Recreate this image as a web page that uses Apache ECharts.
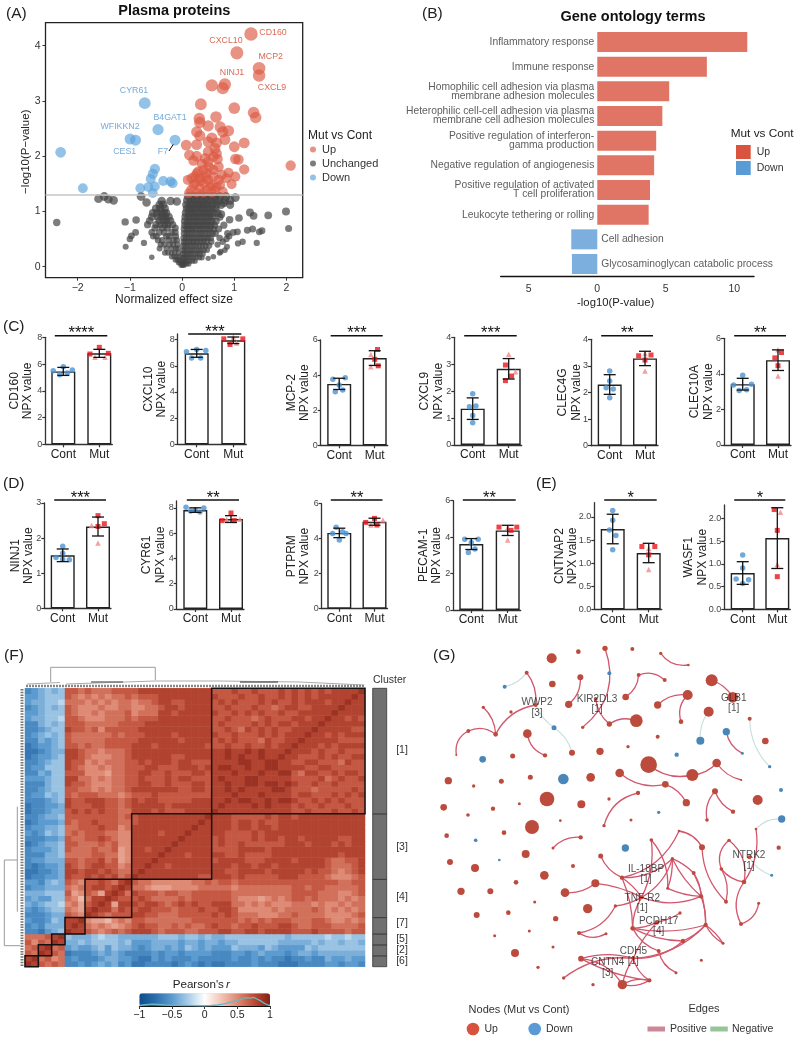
<!DOCTYPE html>
<html><head><meta charset="utf-8">
<style>html,body{margin:0;padding:0;background:#fff}#c{width:800px;height:1040px}</style>
<script src="https://cdn.jsdelivr.net/npm/echarts@6/dist/echarts.min.js"></script>
</head><body><div id="c"></div>
<script>
const FONT='"Liberation Sans",Arial,sans-serif';
/* ---------- (A) volcano ---------- */
const volcanoUp=[[1.32,4.21],[1.05,3.87],[1.475,3.59],[1.475,3.46],[.57,3.28],[.82,3.30],[.78,3.23],[.36,2.94],[1.0,2.87],[1.37,2.79],[1.41,2.70],[.33,2.68],[.65,2.71],[.34,2.61],[.5,2.55],[.73,2.53],[.89,2.46],[.28,2.44],[.34,2.37],[.78,2.44],[.57,2.33],[.82,2.30],[.5,2.26],[.66,2.24],[1.19,2.24],[1.0,2.17],[.08,2.2],[.28,2.21],[.63,2.14],[.5,2.08],[.66,2.05],[.6,1.99],[.14,2.02],[.28,2.0],[1.02,1.95],[1.08,1.94],[.22,1.92],[.5,1.9],[.7,1.81],[2.08,1.83],[1.19,1.76],[.38,1.86],[.41,1.75],[.6,1.75],[.28,1.69],[.47,1.69],[.89,1.7],[1.02,1.63],[.76,1.66],[.24,1.63],[.6,1.63],[.34,1.6],[.11,1.57],[.5,1.57],[.7,1.57],[.95,1.49],[.25,1.51],[.41,1.51],[.57,1.48],[.73,1.48],[.17,1.39],[.34,1.42],[.47,1.39],[.63,1.39],[.78,1.36],[.28,1.34],[.41,1.34],[.57,1.34],[.22,1.48],[.18,1.6],[.31,1.72],[.45,1.62],[.54,1.45],[.66,1.44],[.13,1.33],[.36,1.55],[.85,1.6],[.52,1.8],[.44,1.96],[.68,1.95]];
const volcanoDown=[[-.715,2.96],[-.46,2.48],[-.995,2.31],[-.89,2.29],[-.135,2.29],[-2.325,2.07],[-.52,1.77],[-.56,1.68],[-.6,1.59],[-.36,1.55],[-.22,1.54],[-.18,1.51],[-1.9,1.42],[-.8,1.42],[-.645,1.44],[-.52,1.45],[-.56,1.33]];
const volcanoGraySparse=[[-1.6,1.23],[-1.49,1.27],[-1.41,1.22],[-1.31,1.2],[-.785,1.27],[-.68,1.16],[-.39,1.19],[-.22,1.19],[-.1,1.18],[-2.4,.8],[-1.09,.81],[-.88,.845],[-.89,.62],[-1,.5],[-.97,.56],[-1.08,.36],[-.73,.43],[-.58,.17],[1.3,.98],[1.37,.92],[1.65,.93],[1.99,1.0],[2.04,.69],[1.09,.88],[.91,.85],[1.53,.65],[1.48,.63],[1.25,.66],[1.35,.68],[1.06,.63],[.98,.62],[.87,.6],[1.16,.45],[1.07,.42],[1.43,.43],[.86,.36],[.74,.27],[1.02,1.25],[.92,1.2],[.8,1.15],[.92,1.12],[.84,1.27],[.75,.95],[.8,.75],[.85,.5],[.9,.55],[.78,.45],[.68,.4],[.72,.25],[.6,.18],[.5,.15],[.82,.3]];
const volcanoGrayLevels=[1.27,1.2,1.12,1.05,.97,.9,.82,.75,.68,.6,.52,.45,.38,.3,.23,.16,.1,.05,.02];
const volcanoGrayRight=[[.12,.2,.28,.37,.45,.55,.62,.72],[.1,.17,.24,.31,.39,.47,.54,.63,.7,.82],[.08,.15,.22,.3,.36,.43,.5,.58,.66,.75],[.09,.14,.21,.27,.35,.41,.49,.56,.64],[.07,.13,.19,.26,.33,.4,.46,.53,.6,.68],[.06,.12,.18,.25,.31,.38,.45,.52,.58,.72],[.05,.11,.17,.24,.3,.37,.43,.5,.57,.65],[.05,.1,.16,.22,.29,.35,.42,.48,.55,.62],[.04,.1,.15,.21,.27,.34,.4,.47,.53,.6,.7],[.04,.09,.14,.2,.26,.33,.38,.45,.51,.58,.64],[.03,.08,.13,.19,.25,.31,.37,.43,.49,.55,.72],[.03,.07,.13,.18,.23,.29,.35,.41,.47,.56],[.02,.06,.11,.16,.22,.27,.33,.39,.45,.52],[.02,.05,.1,.15,.2,.25,.31,.36,.42,.48],[.01,.05,.09,.14,.18,.24,.29,.34,.4],[.01,.04,.08,.12,.17,.22,.27,.33,.38],[0,.03,.06,.1,.15,.2,.25],[0,.02,.05,.09,.13],[-.02,.01,.04]];
const volcanoGrayLeftLevels=[1.12,1.05,.97,.9,.83,.76,.7,.62,.55,.48,.4,.33,.25,.18,.12,.07];
const volcanoGrayLeft=[[-.43,-.36],[-.5,-.42,-.33],[-.56,-.48,-.4,-.34,-.3],[-.58,-.46,-.38,-.32,-.25],[-.62,-.44,-.36,-.3,-.22],[-.66,-.5,-.42,-.33,-.27,-.18],[-.52,-.38,-.28,-.13],[-.58,-.44,-.34,-.2,-.13],[-.55,-.49,-.3,-.24,-.12],[-.46,-.38,-.26,-.16,-.1],[-.41,-.34,-.24,-.17,-.09],[-.43,-.3,-.2,-.12,-.08],[-.33,-.27,-.2,-.14,-.07],[-.2,-.15,-.1,-.05],[-.13,-.09,-.05],[-.07,-.04]];
const volcanoThreshold=1.3;
const volcanoTextUp=[['CD160',273,32.7],['CXCL10',226,40.7],['MCP2',270.7,56.7],['NINJ1',232,72.7],['CXCL9',272,88]];
const volcanoTextDown=[['CYR61',134,90.7],['B4GAT1',170,117.7],['WFIKKN2',120,126.7],['CES1',124.7,151.7],['F7',163,151.7]];
/* ---------- (B) GO ---------- */
const goTerms=['Inflammatory response','Immune response','Homophilic cell adhesion via plasma\nmembrane adhesion molecules','Heterophilic cell-cell adhesion via plasma\nmembrane cell adhesion molecules','Positive regulation of interferon-\ngamma production','Negative regulation of angiogenesis','Positive regulation of activated\nT cell proliferation','Leukocyte tethering or rolling','Cell adhesion','Glycosaminoglycan catabolic process'];
const goUp=[10.95,8.0,5.25,4.75,4.3,4.15,3.85,3.75,null,null];
const goDown=[null,null,null,null,null,null,null,null,-1.9,-1.85];
/* ---------- (C,D,E) NPX bars ---------- */
const npxGenes=['CD160','CXCL10','MCP-2','CXCL9','CLEC4G','CLEC10A','NINJ1','CYR61','PTPRM','PECAM-1','CNTNAP2','WASF1'];
const npxStars=['****','***','***','***','**','**','***','**','**','**','*','*'];
const npxContMean=[5.45,6.95,3.5,1.35,2.3,3.42,1.51,7.83,4.33,3.62,1.74,.8];
const npxContErr=[.3,.3,.32,.4,.37,.33,.18,.18,.27,.3,.32,.25];
const npxMutMean=[6.8,7.95,4.97,2.83,3.28,4.77,2.33,7.12,4.97,4.37,1.22,1.57];
const npxMutErr=[.3,.25,.42,.38,.27,.58,.27,.27,.2,.28,.21,.67];
const npxContDots=[[[-.28,5.5],[0,5.8],[.25,5.56],[-.1,5.2],[.11,5.33]],[[-.28,7.07],[0,7.24],[.25,7.17],[-.14,6.6],[.11,6.6]],[[-.18,3.76],[.17,3.85],[0,3.43],[-.11,3.05],[.1,3.15]],[[0,1.9],[-.09,1.42],[.09,1.45],[0,1.1],[0,.83]],[[0,2.81],[0,2.43],[-.1,2.18],[.1,2.13],[0,1.8]],[[0,3.92],[-.26,3.38],[.25,3.41],[-.1,3.06],[.11,3.1]],[[0,1.77],[0,1.57],[-.19,1.45],[.19,1.38],[0,1.4]],[[-.26,8.05],[.24,8],[-.13,7.76],[.13,7.68],[0,7.84]],[[-.09,4.65],[-.19,4.3],[.19,4.3],[.09,4.4],[0,3.92]],[[-.18,3.88],[.19,3.88],[0,3.7],[.1,3.35],[-.08,3.16]],[[0,2.14],[0,1.93],[-.09,1.72],[.09,1.6],[0,1.29]],[[0,1.2],[0,.91],[-.19,.67],[.17,.65],[0,.57]]];
const npxMutSquares=[[[0,7.25],[-.26,6.75],[.25,6.8]],[[-.26,8.06],[.26,8.06],[-.09,7.63]],[[.08,5.46],[0,4.9],[.1,4.53]],[[-.09,2.97],[.08,2.56],[-.09,2.39]],[[-.18,3.38],[.17,3.41],[0,3.22]],[[.1,5.2],[-.09,4.9],[0,4.46]],[[0,2.64],[.18,2.41],[0,2.33]],[[0,7.6],[-.25,7],[.09,7]],[[0,5.16],[-.25,4.93],[.07,4.78]],[[-.24,4.55],[.25,4.55],[.09,4.37]],[[-.19,1.36],[.17,1.36],[0,1.18]],[[-.09,2.2],[0,1.74],[0,.72]]];
const npxMutTriangles=[[[-.12,6.5],[.16,6.5]],[[.09,7.75],[0,8.2]],[[-.11,5.18],[-.11,4.48]],[[0,3.37],[.19,2.72]],[[0,3.47],[0,2.81]],[[0,5.35],[0,3.88]],[[-.18,2.36],[0,1.86]],[[-.12,7.1],[.25,7.1]],[[.24,5.07],[-.1,4.78]],[[0,4.53],[0,3.84]],[[0,1.32],[0,.86]],[[.09,2.14],[0,.99]]];
const npxTicks=[[0,2,4,6,8],[0,2,4,6,8],[0,2,4,6],[0,1,2,3,4],[0,1,2,3,4],[0,2,4,6],[0,1,2,3],[0,2,4,6,8],[0,2,4,6],[0,2,4,6],[0,.5,1,1.5,2],[0,.5,1,1.5,2]];
const npxAxisTop=[8,8.43,6,4,4,6,3,8.55,6,6,2.31,2.3];
/* layout: axis x, centre 1, centre 2, zero y, top y, significance y, name offset */
const npxLayout=[[45.3,63.3,99.3,444.3,337.3,335.7,23.8],[177.7,196.7,233.3,444.3,334,334,22.8],[320.7,339.2,374.7,445.3,340,335.7,22.4],[454.3,472.7,508.7,445,337.3,335.7,22.7],[591,609.7,645,445.7,339.3,335.7,21.3],[724,742.7,778,445,338.3,335.7,22.3],[44.3,62.7,98,608.3,503,500,22],[176.7,195.3,231,609,501,500,23],[321.7,339.3,374.5,608.7,503.7,500,23.4],[453.3,471.3,507.7,610,500.7,500,23.3],[594.3,612.7,648.7,609.3,502.7,500,27.8],[724.3,742.7,777.3,609.3,505,500,28.6]];
/* ---------- (F) correlation heat map: lower triangle, rows from bottom, digit=r*10, letter a..h = -0.1..-0.8 ---------- */
const heatClusterEdges=[0,2,4,6,9,16,28,51];
const heatClusterNames=[['[6]',960.7],['[2]',950],['[5]',939],['[7]',923],['[4]',896.7],['[3]',847.3],['[1]',750]];
const heatRows=[
"9","89",
"76 9","67 89",
"75 76 9","66 67 89",
"ff ge dc 9","fe fd dd 89","ef fe cd 889",
"ff fe dd 765 9","ef ed cc 654 89","de dc cb 564 789","ed ee cc 653 6889","dd dc cc 745 76489","fe ed dd 656 788789","ee fd cd 765 7787689",
"gf fe ed 877 8787867 9","gg ff ed 887 8878766 89","fg fe ed 876 7887756 889","fe ed dd 776 7786745 8889","ff fd dc 666 6776645 88889","fe ee dc 766 6766745 887889","gf ed dc 776 6676755 8888889","ff fe ed 766 7787655 88888889","ef ec dc 676 7776655 888878889","fe ed dc 667 7787756 8888888889","gf ee ed 767 7877766 78888888889","ff ed dc 777 7777767 788888888889",
"gf fe dd 787 8787766 888787778888 9",
"gf fe ed 877 7887767 888887888888 89",
"ff fe dc 877 8887767 878877777888 889",
"fe ec dc 767 7766656 777877777777 8889",
"ff ed cc 776 6565667 888888877887 88989",
"ff fd cc 877 6555667 788778777887 889889",
"ee ed cc 886 6565667 787778788777 8988899",
"ff de cc 777 5554667 788778777887 88898889",
"fe ec cc 876 5565667 778877788878 899889889",
"ff ed cc 877 5656667 787888788777 8888998899",
"gf ee dc 887 6555667 888888778888 88989889889",
"gg fe dd 887 6656667 888888888888 889889898889",
"gf ee dc 776 7667777 888788888887 7787787787889",
"ff de dc 766 6667777 788888878888 78787776877889",
"fe dc dc 766 6666767 778888788888 877877787878889",
"ff ed cc 877 6757777 788888888888 7787687878778889",
"ff dc dc 777 6666677 778888888888 78777787878878889",
"ed dc cb 776 5556667 677788888888 778777678777887889",
"ee dc cc 765 5656667 566688788888 8778787877877888889",
"fe dc dc 765 5565566 556678878888 77877787767887788889",
"ed dc cb 666 5656566 566788778888 787877787877878887889",
"ee dc cc 765 6565667 677788888888 8777877877878787888889",
"fe dc dc 776 7666777 788888888888 77787787778787878788889"];
const heatRange=[-1,1];
const densityX=[-1,-.9,-.8,-.7,-.6,-.5,-.4,-.3,-.2,-.1,0,.1,.2,.3,.4,.5,.55,.6,.65,.7,.75,.8,.85,.9,.95,1];
const densityY=[.04,.1,.14,.12,.09,.07,.05,.04,.03,.02,.02,.04,.08,.16,.3,.45,.52,.6,.66,.62,.68,.55,.42,.25,.12,.02];
/* ---------- (G) network: coordinates (x, y, diameter) ---------- */
const netUp=[[395,115,30],[475,95,14],[555,85,16],[637,87,12],[722,100,10],[805,135,8],[320,158,12],[397,192,20],[481,172,18],[656,165,12],[734,180,12],[875,181,36],[617,231,20],[803,225,30],[713,255,22],[938,232,32],[446,253,22],[347,255,12],[527,237,12],[190,262,10],[273,276,10],[866,275,30],[649,302,38],[568,312,16],[783,305,14],[488,322,10],[989,296,12],[145,333,12],[227,343,14],[322,341,26],[713,350,12],[1036,363,20],[109,405,6],[278,408,15],[375,406,13],[456,398,18],[540,394,22],[624,380,10],[890,429,26],[686,434,50],[817,465,36],[599,459,26],[512,472,26],[331,472,15],[85,482,22],[161,498,10],[244,484,15],[736,493,20],[964,480,6],[381,537,44],[567,537,10],[298,551,9],[484,553,24],[71,562,20],[219,566,13],[144,585,11],[799,548,22],[654,519,13],[885,514,18],[1013,540,30],[939,575,13],[336,621,42],[421,602,8],[552,617,10],[633,600,9],[861,600,11],[80,647,14],[252,638,14],[482,652,13],[399,684,9],[694,660,11],[777,633,8],[1008,627,8],[927,661,10],[846,682,18],[1076,683,13],[988,712,12],[542,708,15],[317,702,24],[90,726,18],[165,744,24],[459,738,12],[373,766,26],[757,716,10],[904,747,11],[821,759,12],[606,773,13],[288,787,14],[972,786,14],[526,790,24],[123,814,22],[211,814,18],[435,818,26],[743,805,9],[843,829,13],[665,832,12],[918,845,12],[344,846,9],[586,858,10],[503,866,28],[1016,850,9],[170,885,18],[265,878,14],[780,879,10],[407,896,16],[711,907,14],[638,925,14],[857,915,13],[963,912,12],[224,947,9],[328,933,9],[477,939,12],[558,941,9],[789,963,13],[909,970,9],[399,981,9],[285,999,24],[716,993,12],[640,1015,12],[844,1021,9],[483,1016,17],[354,1042,10],[768,1058,9],[431,1074,10],[688,1081,13],[607,1094,28],[519,1094,10]];
const netDown=[[568,160,12],[254,200,12],[402,323,15],[841,362,24],[919,335,22],[967,400,9],[1049,440,10],[188,418,20],[770,404,13],[430,477,32],[1083,510,12],[716,577,10],[1085,597,22],[167,661,11],[238,720,8],[616,684,22],[1055,766,9]];
const netPositive=[[555,85,488,322,.35],[481,172,446,253,.25],[656,165,617,231,.25],[656,165,734,180,.3],[722,100,805,135,-.3],[803,225,713,255,-.25],[803,225,783,305,-.3],[875,181,938,232,.2],[527,237,568,312,-.2],[568,312,649,302,.25],[320,158,347,255,.2],[347,255,227,343,-.25],[190,262,227,343,.2],[145,333,227,343,.3],[145,333,109,405,-.35],[322,341,375,406,-.3],[686,434,817,465,-.25],[817,465,890,429,-.2],[890,429,964,480,-.2],[599,459,736,493,-.25],[736,493,799,548,.2],[654,519,552,617,-.3],[885,514,861,600,-.25],[885,514,939,575,-.2],[919,335,967,400,-.25],[482,652,399,684,-.25],
[694,660,665,832,.15],[694,660,743,805,.2],[777,633,606,773,.25],[777,633,846,682,.25],[846,682,918,845,-.2],[757,716,606,773,.2],[757,716,743,805,.1],[757,716,665,832,.2],[757,716,843,829,-.1],[757,716,821,759,.1],[821,759,843,829,.15],[821,759,857,915,.12],[843,829,665,832,.2],[743,805,843,829,-.1],[606,773,665,832,.1],[606,773,638,925,.1],[542,708,606,773,-.2],[435,818,526,790,-.2],[526,790,665,832,.1],[665,832,586,858,.1],[586,858,477,939,.25],[477,939,558,941,-.3],[665,832,638,925,-.15],[780,879,711,907,.1],[711,907,638,925,.1],[638,925,857,915,-.12],[638,925,789,963,-.12],[638,925,716,993,-.2],[857,915,789,963,.1],[857,915,909,970,-.15],[857,915,909,970,.1],[843,829,857,915,.1],[857,915,640,1015,.2],[789,963,640,1015,.2],[716,993,768,1058,-.25],[711,907,640,1015,-.1],[640,1015,607,1094,-.1],[640,1015,688,1081,-.2],[431,1074,640,1015,.2],[483,1016,607,1094,.25],[483,1016,640,1015,.15],[483,1016,688,1081,-.1],[607,1094,688,1081,.2],[607,1094,688,1081,-.2],
[1008,627,972,786,.2],[927,661,904,747,-.35],[927,661,972,786,.3],[904,747,918,845,.2],[904,747,972,786,-.2],[972,786,963,912,-.3],[963,912,1016,850,-.3]];
const netNegative=[[320,158,254,200,.2],[347,255,402,323,-.15],[402,323,456,398,.2],[866,275,841,362,-.2],[989,296,1049,440,-.2],[1085,597,1008,627,-.25],[988,712,1055,766,-.2]];
const netLabels=[['WWP2\n[3]',351,263],['KIR2DL3\n[1]',531,253],['GLB1\n[1]',941,250],['IL-18BP\n[1]',678,762],['TNF-R2\n[1]',667,849],['PCDH17\n[4]',716,918],['CDH5\n[1]',640,1008],['CNTN4\n[3]',563,1043],['NTRK2\n[1]',987,722]];

/* ---------- build ---------- */
const grid=[],xAxis=[],yAxis=[],series=[],graphic=[];
const T=(x,y,text,o={})=>graphic.push({type:'text',x,y,rotation:o.rot||0,silent:true,z:50,style:{text,font:`${o.style||'normal'} ${o.weight||'normal'} ${o.size||10.5}px ${FONT}`,fill:o.color||'#222',align:o.align||'left',verticalAlign:'middle'}});
const L=(x1,y1,x2,y2,color='#111',w=1.4)=>graphic.push({type:'line',silent:true,z:50,shape:{x1,y1,x2,y2},style:{stroke:color,lineWidth:w}});
const P=(points,color='#9a9a9a',w=1)=>graphic.push({type:'polyline',silent:true,z:50,shape:{points},style:{stroke:color,lineWidth:w,fill:'none'}});
const R=(x,y,width,height,fill)=>graphic.push({type:'rect',silent:true,z:50,shape:{x,y,width,height},style:{fill}});
const C=(cx,cy,r,fill)=>graphic.push({type:'circle',silent:true,z:50,shape:{cx,cy,r},style:{fill}});
function addGrid(g,x,y){grid.push(Object.assign({containLabel:false},g));const i=grid.length-1;xAxis.push(Object.assign({gridIndex:i},x));yAxis.push(Object.assign({gridIndex:i},y));return i;}
const hidden={show:false};

T(6,14,'(A)',{size:15.5});T(422,14,'(B)',{size:15.5});T(3,327,'(C)',{size:15.5});T(3,484,'(D)',{size:15.5});T(536,484,'(E)',{size:15.5});T(4,656,'(F)',{size:15.5});T(433,656,'(G)',{size:15.5});

/* A */
const volcanoGray=[...volcanoGraySparse];
volcanoGrayLevels.forEach((y,i)=>volcanoGrayRight[i].forEach(x=>volcanoGray.push([x,y])));
volcanoGrayLeftLevels.forEach((y,i)=>volcanoGrayLeft[i].forEach(x=>volcanoGray.push([x,y])));
const gA=addGrid({left:45.5,top:22.7,width:257.2,height:255,show:true,borderColor:'#222',borderWidth:1.3,backgroundColor:'transparent'},
 {type:'value',min:-2.615,max:2.31,splitLine:hidden,axisLine:{show:false,onZero:false},axisTick:{show:true,length:3,customValues:[-2,-1,0,1,2],lineStyle:{color:'#333'}},axisLabel:{customValues:[-2,-1,0,1,2],fontSize:10.5,color:'#333',margin:5,formatter:v=>String(v).replace('-','−')}},
 {type:'value',min:-.2,max:4.416,splitLine:hidden,axisLine:{show:false,onZero:false},axisTick:{show:true,length:3,customValues:[0,1,2,3,4],lineStyle:{color:'#333'}},axisLabel:{customValues:[0,1,2,3,4],fontSize:10.5,color:'#333',margin:5}});
const vs=d=>d[1]<1.3?5+3*d[1]:8+1.3*d[1];
series.push({type:'scatter',name:'Unchanged',xAxisIndex:gA,yAxisIndex:gA,data:volcanoGray,symbolSize:vs,itemStyle:{color:'#444',opacity:.7},z:2,silent:true});
series.push({type:'scatter',name:'Up',xAxisIndex:gA,yAxisIndex:gA,data:volcanoUp,symbolSize:vs,itemStyle:{color:'#DC5A43',opacity:.66},z:3,silent:true,
 markLine:{silent:true,symbol:'none',label:hidden,animation:false,lineStyle:{color:'#C4C4C4',width:1.5,type:'solid'},data:[{yAxis:volcanoThreshold}]}});
series.push({type:'scatter',name:'Down',xAxisIndex:gA,yAxisIndex:gA,data:volcanoDown,symbolSize:vs,itemStyle:{color:'#5BA3DC',opacity:.66},z:3,silent:true});
T(174.3,11,'Plasma proteins',{size:14.5,weight:'bold',align:'center',color:'#111'});
T(174,300,'Normalized effect size',{size:12,align:'center'});
T(26,151.7,'−log10(P−value)',{size:11.5,align:'center',rot:Math.PI/2});
volcanoTextUp.forEach(t=>T(t[1],t[2],t[0],{size:8.8,align:'center',color:'#DC6A55'}));
volcanoTextDown.forEach(t=>T(t[1],t[2],t[0],{size:8.8,align:'center',color:'#72ABDB'}));
L(169,151,173.3,144.3,'#111',1);
T(308,136,'Mut vs Cont',{size:12});

/* B */
const gB=addGrid({left:500.7,top:29.67,width:253.3,height:246.67},
 {type:'value',min:-7.05,max:11.44,splitLine:hidden,axisLine:{show:true,onZero:false,lineStyle:{color:'#111',width:1.4}},axisTick:hidden,axisLabel:{customValues:[-5,0,5,10],fontSize:10.5,color:'#333',margin:7,formatter:v=>String(Math.abs(v))}},
 {type:'category',inverse:true,data:goTerms,show:false});
const goLab={show:true,fontSize:10.3,lineHeight:9,color:'#333',formatter:p=>p.name};
series.push({type:'bar',name:'GO Up',xAxisIndex:gB,yAxisIndex:gB,data:goUp,barWidth:20,barGap:'-100%',itemStyle:{color:'#D9533F',opacity:.8},label:Object.assign({position:'left',distance:3},goLab),silent:true});
series.push({type:'bar',name:'GO Down',xAxisIndex:gB,yAxisIndex:gB,data:goDown,barWidth:20,barGap:'-100%',itemStyle:{color:'#5B9BD5',opacity:.8},label:Object.assign({position:'right',distance:4},goLab),silent:true});
T(633,17,'Gene ontology terms',{size:14.5,weight:'bold',align:'center',color:'#111'});
T(615.7,303,'-log10(P-value)',{size:11.3,align:'center'});
T(730.7,134,'Mut vs Cont',{size:11.8});

/* C D E */
npxGenes.forEach((gene,k)=>{
 const [ax,c1,c2,y0,yT,sigY,nameOff]=npxLayout[k],band=c2-c1,right=c2+13,vmax=npxAxisTop[k],ticks=npxTicks[k];
 const i=addGrid({left:ax,top:yT,width:right-ax,height:y0-yT},
  {type:'value',min:-(c1-ax)/band,max:1+13/band,splitLine:hidden,axisLine:{show:true,onZero:false,lineStyle:{color:'#333',width:1.3}},
   axisTick:{show:true,length:3,customValues:[0,1],lineStyle:{color:'#333',width:1.2}},axisLabel:{customValues:[0,1],fontSize:12,color:'#222',margin:4,formatter:v=>v<.5?'Cont':'Mut'}},
  {type:'value',min:0,max:vmax,splitLine:hidden,name:gene+'\nNPX value',nameLocation:'middle',nameMoveOverlap:false,nameGap:nameOff-13.3,nameTextStyle:{fontSize:12,lineHeight:13.3,color:'#222'},
   axisLine:{show:true,onZero:false,lineStyle:{color:'#333',width:1.3}},axisTick:{show:true,length:3,customValues:ticks,lineStyle:{color:'#333',width:1.2}},
   axisLabel:{customValues:ticks,fontSize:9,color:'#444',margin:3,formatter:v=>k>=10?v.toFixed(1):String(v)}});
 series.push({type:'bar',xAxisIndex:i,yAxisIndex:i,barWidth:24,data:[[0,npxContMean[k]],[1,npxMutMean[k]]],itemStyle:{color:'#fff',borderColor:'#222',borderWidth:1.4},silent:true,z:2});
 const dots=[];
 npxContDots[k].forEach(d=>dots.push({value:[d[0],d[1]],symbol:'circle',symbolSize:5.5,itemStyle:{color:'#4F93D2'}}));
 npxMutTriangles[k].forEach(d=>dots.push({value:[1+d[0],d[1]],symbol:'triangle',symbolSize:5.5,itemStyle:{color:'#F08A8A'}}));
 npxMutSquares[k].forEach(d=>dots.push({value:[1+d[0],d[1]],symbol:'rect',symbolSize:5,itemStyle:{color:'#E8141C'}}));
 series.push({type:'scatter',xAxisIndex:i,yAxisIndex:i,data:dots,clip:false,silent:true,z:3});
 series.push({type:'custom',xAxisIndex:i,yAxisIndex:i,silent:true,z:4,clip:false,encode:{x:0,y:[1,2]},
  data:[[0,npxContMean[k]-npxContErr[k],npxContMean[k]+npxContErr[k]],[1,npxMutMean[k]-npxMutErr[k],npxMutMean[k]+npxMutErr[k]]],
  renderItem:(p,api)=>{const a=api.coord([api.value(0),api.value(1)]),b=api.coord([api.value(0),api.value(2)]);const st={stroke:'#111',lineWidth:1.3};
   return {type:'group',children:[{type:'line',shape:{x1:a[0],y1:a[1],x2:b[0],y2:b[1]},style:st},{type:'line',shape:{x1:a[0]-6,y1:a[1],x2:a[0]+6,y2:a[1]},style:st},{type:'line',shape:{x1:b[0]-6,y1:b[1],x2:b[0]+6,y2:b[1]},style:st}]};}});
 L(c1-8.5,sigY,c2+8,sigY,'#111',1.4);
 T((c1+c2)/2,sigY-2,npxStars[k],{size:16.5,align:'center',color:'#111'});
});

/* F */
const heatData=[];const decode=ch=>{if(ch===undefined)return .8;const n=ch.charCodeAt(0);return n<58?(n-48)/10:-(n-96)/10;};
const heatClean=heatRows.map(r=>r.replace(/ /g,''));
const heatN=heatClean.length,heatCats=heatClean.map((_,i)=>String(i));
for(let i=0;i<heatN;i++)for(let j=0;j<=i;j++){const v=decode(heatClean[i][j]);heatData.push([j,i,v]);if(j!==i)heatData.push([i,j,v]);}
const gF=addGrid({left:25,top:688.3,width:340,height:278.4},{type:'category',data:heatCats,show:false},{type:'category',data:heatCats,show:false});
const heatIdx=series.length;
series.push({type:'heatmap',xAxisIndex:gF,yAxisIndex:gF,data:heatData,progressive:0,silent:true,z:2});
heatClusterNames.forEach(c=>T(402,c[1],c[0],{size:10.5,align:'center',color:'#333'}));
T(373,679.7,'Cluster',{size:10.5,color:'#333'});
/* dendrograms */
P([[50.7,682],[50.7,667.3],[155.3,667.3],[155.3,680]]);
P([[27,684],[60,682.5]],'#aaa',1);P([[66,684],[155,681],[220,681],[300,682],[364,685]],'#aaa',1);
P([[91,682],[123,682]],'#777',1.5);P([[240,682],[278,682]],'#666',1.5);
graphic.push({type:'line',silent:true,z:50,shape:{x1:26,y1:686,x2:364,y2:686},style:{stroke:'#888',lineWidth:2.6,lineDash:[2,1]}});
graphic.push({type:'line',silent:true,z:50,shape:{x1:22,y1:689,x2:22,y2:966},style:{stroke:'#777',lineWidth:3,lineDash:[1.5,1.2]}});
P([[17,860],[4.3,860],[4.3,945.7],[17,945.7]]);
P([[17.3,806.7],[17.3,911.7]]);P([[17,945.7],[20,945.7]]);
T(172.7,985,"Pearson's",{size:11.6});T(226,985,'r',{size:11.6,style:'italic'});
const gCB=addGrid({left:139.3,top:993.3,width:130.7,height:12.7},
 {type:'value',min:-1,max:1,splitLine:hidden,axisLine:{show:true,onZero:false,lineStyle:{color:'#111',width:1}},axisTick:{show:true,length:3,customValues:[-1,-.5,0,.5,1],lineStyle:{color:'#333'}},axisLabel:{customValues:[-1,-.5,0,.5,1],fontSize:10.5,color:'#222',margin:4,formatter:v=>String(v).replace('-','−')}},
 {type:'value',min:0,max:1,show:false});
series.push({type:'line',xAxisIndex:gCB,yAxisIndex:gCB,data:densityX.map((x,i)=>[x,densityY[i]]),symbol:'none',lineStyle:{color:'#63BAC6',width:1.3},z:10,silent:true});

/* G */
const gG=addGrid({left:420,top:620,width:380,height:420},{type:'value',min:0,max:1140,show:false},{type:'value',min:0,max:1260,inverse:true,show:false});
const nodes=[];
netUp.forEach(n=>nodes.push({name:n[0]+','+n[1],value:[n[0],n[1]],symbolSize:n[2]/3,itemStyle:{color:'#BC4B3D'}}));
netDown.forEach(n=>nodes.push({name:n[0]+','+n[1],value:[n[0],n[1]],symbolSize:n[2]/3,itemStyle:{color:'#4A87B8'}}));
const edge=(e,color,width)=>({source:e[0]+','+e[1],target:e[2]+','+e[3],lineStyle:{color,width,opacity:1,curveness:e[4]}});
const links=[...netNegative.map(e=>edge(e,'#C6E0DC',1.1)),...netPositive.map(e=>edge(e,'#D2566C',1.3))];
series.push({type:'graph',layout:'none',coordinateSystem:'cartesian2d',xAxisIndex:gG,yAxisIndex:gG,data:nodes,links,silent:true,z:3,nodeScaleRatio:0,label:hidden,edgeSymbol:['none','none'],emphasis:{disabled:true}});
series.push({type:'scatter',xAxisIndex:gG,yAxisIndex:gG,symbolSize:1,itemStyle:{color:'transparent'},silent:true,z:6,data:netLabels.map(l=>({value:[l[1],l[2]],name:l[0]})),
 label:{show:true,position:'inside',formatter:p=>p.name,fontSize:10,lineHeight:10.5,color:'#222'}});
T(519,1010,'Nodes (Mut vs Cont)',{size:11,align:'center',color:'#333'});
C(473,1029,6.3,'#D8533D');T(484.5,1029,'Up',{size:10.5,color:'#333'});
C(534.7,1029,6.3,'#5B9BD5');T(546,1029,'Down',{size:10.5,color:'#333'});
T(704,1009,'Edges',{size:11,align:'center',color:'#333'});
R(647.5,1026.5,17.5,5,'#CE8798');T(670,1029,'Positive',{size:10.5,color:'#333'});
R(710.3,1026.5,17.5,5,'#98C49A');T(732,1029,'Negative',{size:10.5,color:'#333'});

/* heat map overlay axes go last so grid and axis indices stay aligned above */
xAxis.push({gridIndex:gF,type:'value',min:0,max:51,show:false});yAxis.push({gridIndex:gF,type:'value',min:0,max:51,show:false});
const fx=xAxis.length-1,fy=yAxis.length-1;
const heatPairs=heatClusterEdges.slice(0,-1).map((e,i)=>[e,heatClusterEdges[i+1]]);
series.push({type:'custom',xAxisIndex:fx,yAxisIndex:fy,silent:true,z:5,clip:false,encode:{x:[0,1],y:[0,1]},data:heatPairs,
 renderItem:(p,api)=>{const a=api.coord([api.value(0),api.value(0)]),b=api.coord([api.value(1),api.value(1)]);
  return {type:'group',children:[
   {type:'rect',shape:{x:a[0],y:b[1],width:b[0]-a[0],height:a[1]-b[1]},style:{fill:'none',stroke:'#111',lineWidth:1.5}},
   {type:'rect',shape:{x:372.7,y:b[1],width:14,height:a[1]-b[1]},style:{fill:'#707070',stroke:'#333',lineWidth:.8}}]};}});

const option={animation:false,textStyle:{fontFamily:FONT},grid,xAxis,yAxis,series,graphic:{elements:graphic},
 legend:[
  {left:310,top:144,orient:'vertical',padding:0,selectedMode:false,icon:'circle',itemWidth:6,itemHeight:6,itemGap:3,textStyle:{fontSize:11,color:'#333',padding:[0,0,0,1]},data:['Up','Unchanged','Down']},
  {left:736,top:145,orient:'vertical',padding:0,selectedMode:false,icon:'rect',itemWidth:14.7,itemHeight:14,itemGap:2,textStyle:{fontSize:10.5,color:'#333',padding:[0,0,0,1]},formatter:n=>n.replace('GO ',''),data:[{name:'GO Up',itemStyle:{opacity:1}},{name:'GO Down',itemStyle:{opacity:1}}]}],
 visualMap:[{type:'continuous',min:heatRange[0],max:heatRange[1],orient:'horizontal',left:139.3,top:993.3,padding:0,itemWidth:12.7,itemHeight:130.7,calculable:false,showLabel:false,text:null,seriesIndex:heatIdx,realtime:false,hoverLink:false,
  inRange:{color:['#0F4C8A','#2C6EAD','#5C9BCF','#A9CDE8','#FFFFFF','#F2C4B5','#DE8A74','#BE4B36','#842116']}}]};
const chart=echarts.init(document.getElementById('c'),null,{renderer:'canvas'});
chart.setOption(option);
</script></body></html>
